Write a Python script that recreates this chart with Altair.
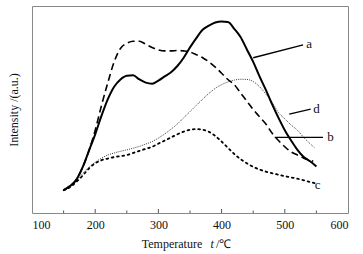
import altair as alt
import pandas as pd

# ---- data ----
temp_a = [150,160,170,180,190,200,210,220,230,240,250,260,270,280,290,300,310,320,330,340,350,360,370,380,390,400,410,420,430,440,450,460,470,480,490,500,510,520,530,540,550]
int_a  = [11,13,16,22,30,38,47,55,61,64.5,66.3,66.5,64.5,63,62.5,64,66,68,71,75,80,84.5,88.5,90.5,92,92.5,92.3,89,85,79,73,66,59.5,52.5,46,40,35,30.5,27,25,22.5]

temp_b = [150,160,170,180,190,200,210,220,230,240,250,260,270,280,290,300,310,320,330,340,350,360,370,380,390,400,410,420,430,440,450,460,470,480,490,500,510,520,530,540,545]
int_b  = [11,13,16,22,30,40,52,63,73,79.5,82,83,83,81.5,80,78.8,78.3,78.3,78.5,78.3,77.8,76.5,75,73,70.5,67.5,64.5,62,58,54,50,46.5,43,38.5,35,32,29.5,28,26.5,25.5,25]

temp_c = [150,160,170,180,190,200,210,220,230,240,250,260,270,280,290,300,310,320,330,340,350,360,370,380,390,400,410,420,430,440,450,460,470,480,490,500,510,520,530,540,550]
int_c  = [11,12.5,15,18,21.5,24,25.5,26.3,27,27.5,28,29,30,31,32,33.5,35,36.5,38,39.3,40.2,40.5,40.2,39.2,37.2,34.5,31.5,28.5,26,24,22.3,21,20,19.2,18.5,17.8,17.2,16.6,15.8,15,14.2]

temp_d = [150,160,170,180,190,200,210,220,230,240,250,260,270,280,290,300,310,320,330,340,350,360,370,380,390,400,410,420,430,440,450,460,470,480,490,500,510,520,530,540,547]
int_d  = [11,12.5,15.5,19,22,24.5,26.5,28,29,29.8,30.5,31.3,32.2,33.3,34.5,36.2,38.2,40.5,43,46,49,52,55,57.8,60.2,62,63.3,64.2,64.6,64.5,63.5,61,57.5,53.5,48.5,45.5,42.5,40,36.5,33.5,31.5]

x_ticks_major = [200, 300, 400, 500]
x_ticks_minor = [150, 250, 350, 450, 550]
x_labels = [100, 200, 300, 400, 500, 600]

# leader lines and labels
lab_names = ["a", "d", "b", "c"]
lab_x = [534, 545, 567, 547.5]
lab_y = [81.5, 50.2, 36.5, 13.7]
lead_x1 = [450, 507, 484]
lead_x2 = [529, 541, 560.5]
lead_y1 = [75, 47.8, 36.5]
lead_y2 = [81.2, 50.2, 36.5]

FONT = "Liberation Serif"

def series(t, v, name):
    return pd.DataFrame({"t": t, "i": v, "s": name})

xs = alt.Scale(domain=[100, 600], nice=False, zero=False)
ys = alt.Scale(domain=[0, 100], nice=False, zero=False)

xax = alt.Axis(values=x_labels, format="d", ticks=False, domain=False, grid=False,
               labelFont=FONT, labelFontSize=12, labelColor="#111", labelPadding=6,
               title=None)
yax = alt.Axis(labels=False, ticks=False, domain=False, grid=False,
               title="Intensity /(a.u.)", titleFont=FONT, titleFontSize=12,
               titleFontWeight="normal", titleColor="#111", titlePadding=12)

def line(df, color="black", **kw):
    return alt.Chart(df).mark_line(color=color, interpolate="monotone", **kw).encode(
        x=alt.X("t:Q", scale=xs, axis=xax),
        y=alt.Y("i:Q", scale=ys, axis=yax),
    )

la = line(series(temp_a, int_a, "a"), strokeWidth=2)
lb = line(series(temp_b, int_b, "b"), strokeWidth=1.6, strokeDash=[7, 4])
lc = line(series(temp_c, int_c, "c"), strokeWidth=1.8, strokeDash=[1.8, 3.6], strokeCap="round")
ld = line(series(temp_d, int_d, "d"), color="#333", strokeWidth=1, strokeDash=[1, 1.2])

ticks_major = alt.Chart(pd.DataFrame({"t": x_ticks_major})).mark_rule(color="#555", strokeWidth=1).encode(
    x=alt.X("t:Q", scale=xs), y=alt.value(207), y2=alt.value(203))
ticks_minor = alt.Chart(pd.DataFrame({"t": x_ticks_minor})).mark_rule(color="#555", strokeWidth=1).encode(
    x=alt.X("t:Q", scale=xs), y=alt.value(207), y2=alt.value(204.5))

lead = alt.Chart(pd.DataFrame({"x1": lead_x1, "x2": lead_x2, "y1": lead_y1, "y2": lead_y2})).mark_rule(
    color="black", strokeWidth=1.3).encode(
    x=alt.X("x1:Q", scale=xs), x2="x2:Q", y=alt.Y("y1:Q", scale=ys), y2="y2:Q")

labels = alt.Chart(pd.DataFrame({"x": lab_x, "y": lab_y, "n": lab_names})).mark_text(
    font=FONT, fontSize=13, align="left", baseline="middle", color="#111").encode(
    x=alt.X("x:Q", scale=xs), y=alt.Y("y:Q", scale=ys), text="n:N")

t1 = alt.Chart(pd.DataFrame({"s": ["Temperature"]})).mark_text(
    font=FONT, fontSize=12, align="center", baseline="alphabetic", color="#111").encode(
    x=alt.value(140), y=alt.value(242), text="s:N")
t2 = alt.Chart(pd.DataFrame({"s": ["t"]})).mark_text(
    font=FONT, fontSize=12, fontStyle="italic", align="left", baseline="alphabetic", color="#111").encode(
    x=alt.value(178.5), y=alt.value(242), text="s:N")
t3 = alt.Chart(pd.DataFrame({"s": ["/℃"]})).mark_text(
    font=FONT, fontSize=12, align="left", baseline="alphabetic", color="#111").encode(
    x=alt.value(184), y=alt.value(242), text="s:N")

chart = alt.layer(ticks_major, ticks_minor, ld, lc, lb, la, lead, labels, t1, t2, t3).properties(
    width=316, height=207,
    padding={"left": 32, "top": 6, "right": 15, "bottom": 41},
    autosize=alt.AutoSizeParams(type="none"),
    background="white",
).configure_view(stroke="#888", strokeWidth=1)

chart.save("out.html", embed_options={"renderer": "svg", "actions": False})
